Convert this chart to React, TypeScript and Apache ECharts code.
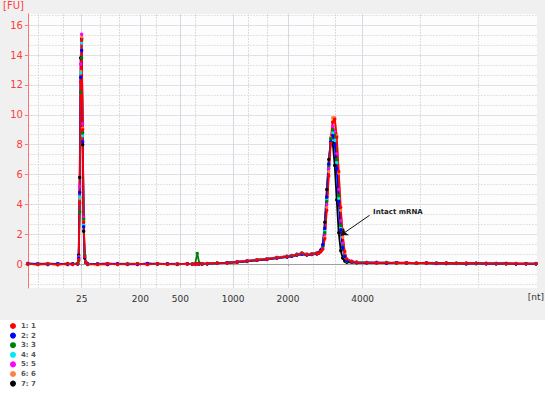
import React, { useEffect, useRef } from "react";
import * as echarts from "echarts";

// migration time (s) of each sampled point
const scanTimes = [
  19, 20, 21, 22, 23, 23.5, 24,
  24.1, 24.2, 24.3, 24.4, 24.5, 24.6, 24.7, 24.8,
  25, 26, 27, 28, 29, 30, 31, 32, 33, 34, 35, 35.5, 35.8, 36, 36.2, 36.5, 37, 38, 39, 40, 41, 42, 43, 44, 45, 45.5, 46, 46.5, 47, 47.5, 48,
  48.2, 48.4, 48.6, 48.8, 49, 49.2, 49.4, 49.6, 49.8, 50, 50.2, 50.4, 50.6, 50.8, 51,
  51.5, 52, 53, 54, 55, 56, 57, 58, 59, 60, 61, 62, 63, 64, 65, 66, 67, 68, 69, 70,
];

const run1 = [
  0.02, -0.03, 0.01, -0.04, 0.02, -0.02, 0.03,
  0.3, 4.1, 12.2, 15.0, 9.0, 2.8, 0.5, 0.12,
  0.0, -0.03, 0.02, -0.02, 0.01, 0.03, -0.02, 0.02, -0.01, 0.0, 0.02, -0.01, 0.01, 0.03, 0.0, 0.02, 0.04, 0.06, 0.08, 0.14, 0.2, 0.27, 0.33, 0.42, 0.5, 0.55, 0.62, 0.72, 0.63, 0.66, 0.7,
  0.75, 0.85, 1.0, 1.7, 3.6, 5.9, 8.1, 9.5, 9.7, 8.5, 6.2, 3.8, 2.0, 0.85, 0.35,
  0.18, 0.12, 0.1, 0.08, 0.1, 0.07, 0.09, 0.06, 0.08, 0.05, 0.07, 0.04, 0.06, 0.05, 0.03, 0.05, 0.02, 0.04, 0.01, 0.03,
];
const run2 = [
  0.05, 0.0, -0.02, 0.03, -0.01, 0.02, 0.0,
  0.4, 4.8, 12.5, 14.3, 8.2, 2.5, 0.45, 0.1,
  0.02, 0.0, -0.01, 0.03, 0.0, -0.02, 0.04, 0.01, 0.02, -0.01, 0.03, 0.0, 0.01, 0.02, 0.01, 0.01, 0.03, 0.05, 0.09, 0.13, 0.19, 0.25, 0.31, 0.4, 0.47, 0.52, 0.6, 0.66, 0.6, 0.64, 0.68,
  0.78, 0.95, 1.3, 2.4, 4.5, 6.7, 8.2, 8.6, 8.0, 6.4, 4.2, 2.3, 1.1, 0.5, 0.25,
  0.14, 0.1, 0.08, 0.1, 0.06, 0.09, 0.07, 0.05, 0.08, 0.04, 0.06, 0.05, 0.03, 0.06, 0.02, 0.04, 0.03, 0.01, 0.03, 0.02,
];
const run3 = [
  -0.01, 0.03, 0.0, -0.02, 0.04, 0.0, 0.01,
  0.2, 3.5, 11.5, 13.8, 8.8, 3.0, 0.6, 0.15,
  -0.02, 0.01, 0.03, 0.0, -0.01, 0.02, 0.0, 0.03, 0.01, -0.02, 0.02, 0.0, 0.05, 0.72, 0.08, 0.02, 0.03, 0.07, 0.07, 0.12, 0.18, 0.26, 0.32, 0.4, 0.48, 0.53, 0.6, 0.68, 0.62, 0.65, 0.69,
  0.76, 0.9, 1.2, 2.1, 4.2, 6.6, 8.4, 9.0, 8.6, 7.0, 4.6, 2.6, 1.2, 0.55, 0.25,
  0.15, 0.11, 0.09, 0.07, 0.09, 0.06, 0.08, 0.05, 0.07, 0.06, 0.04, 0.05, 0.04, 0.03, 0.05, 0.02, 0.04, 0.02, 0.03, 0.01,
];
const run4 = [
  0.04, 0.01, -0.02, 0.02, 0.0, 0.03, 0.01,
  0.35, 4.5, 12.8, 14.8, 8.6, 2.6, 0.5, 0.1,
  0.03, 0.01, 0.0, 0.02, 0.04, 0.0, 0.01, -0.01, 0.03, 0.02, 0.0, 0.02, 0.01, 0.0, 0.03, 0.02, 0.04, 0.05, 0.1, 0.13, 0.2, 0.26, 0.32, 0.41, 0.49, 0.54, 0.61, 0.67, 0.64, 0.66, 0.71,
  0.77, 0.92, 1.25, 2.2, 4.3, 6.6, 8.3, 8.8, 8.3, 6.8, 4.4, 2.4, 1.15, 0.5, 0.22,
  0.16, 0.13, 0.11, 0.09, 0.12, 0.08, 0.1, 0.07, 0.09, 0.08, 0.06, 0.07, 0.05, 0.06, 0.04, 0.05, 0.03, 0.04, 0.02, 0.04,
];
const run5 = [
  0.0, 0.03, 0.02, -0.01, 0.03, 0.01, 0.02,
  0.5, 5.2, 13.4, 15.4, 9.4, 3.1, 0.6, 0.14,
  -0.01, 0.02, 0.04, 0.01, -0.02, 0.0, 0.03, 0.0, 0.01, 0.03, -0.01, 0.01, 0.0, 0.02, 0.01, 0.03, 0.02, 0.06, 0.08, 0.14, 0.22, 0.27, 0.34, 0.45, 0.5, 0.57, 0.63, 0.7, 0.65, 0.67, 0.72,
  0.78, 0.9, 1.15, 2.0, 4.0, 6.4, 8.4, 9.2, 8.9, 7.4, 5.0, 2.9, 1.4, 0.6, 0.28,
  0.2, 0.13, 0.1, 0.12, 0.08, 0.1, 0.09, 0.07, 0.1, 0.06, 0.08, 0.05, 0.07, 0.04, 0.06, 0.03, 0.05, 0.03, 0.02, 0.04,
];
const run6 = [
  -0.02, 0.02, 0.04, 0.0, -0.01, 0.03, 0.0,
  0.3, 4.4, 12.9, 15.2, 9.1, 2.9, 0.5, 0.12,
  0.01, -0.02, 0.0, 0.02, 0.03, -0.01, 0.0, 0.02, 0.0, 0.01, 0.02, -0.02, 0.02, 0.01, 0.0, 0.01, 0.03, 0.07, 0.09, 0.15, 0.21, 0.28, 0.35, 0.43, 0.51, 0.56, 0.63, 0.73, 0.66, 0.68, 0.72,
  0.78, 0.88, 1.05, 1.8, 3.8, 6.2, 8.5, 9.8, 9.8, 8.6, 6.1, 3.6, 1.8, 0.8, 0.33,
  0.17, 0.12, 0.09, 0.08, 0.1, 0.06, 0.08, 0.07, 0.06, 0.07, 0.05, 0.06, 0.04, 0.05, 0.03, 0.04, 0.02, 0.03, 0.02, 0.01,
];
const run7 = [
  0.01, -0.01, 0.03, 0.02, -0.02, 0.0, 0.04,
  0.6, 5.8, 13.8, 15.1, 8.0, 2.2, 0.4, 0.1,
  0.0, 0.02, -0.02, 0.01, 0.0, 0.02, -0.01, 0.03, 0.0, 0.02, 0.01, 0.0, 0.02, 0.0, 0.01, 0.0, 0.02, 0.06, 0.1, 0.16, 0.22, 0.3, 0.36, 0.45, 0.53, 0.58, 0.66, 0.74, 0.67, 0.7, 0.75,
  0.75, 0.85, 1.3, 2.8, 5.0, 7.0, 8.2, 8.1, 6.6, 4.3, 2.1, 0.9, 0.4, 0.2, 0.12,
  0.12, 0.09, 0.11, 0.08, 0.07, 0.09, 0.06, 0.08, 0.05, 0.07, 0.04, 0.06, 0.03, 0.05, 0.04, 0.03, 0.05, 0.02, 0.03, 0.02,
];

const runValues = [run1, run2, run3, run4, run5, run6, run7];
const runNames = ["1: 1", "2: 2", "3: 3", "4: 4", "5: 5", "6: 6", "7: 7"];
const runColors = ["#ff0000", "#0000ff", "#008000", "#00e8f0", "#ff00ff", "#ff8040", "#000000"];

// ladder positions (s) and their sizes in nt
const ladderTimes = [24.4, 30.3, 34.3, 39.6, 45.1, 52.6];
const ladderLabels = ["25", "200", "500", "1000", "2000", "4000"];
const minorTimes = [20.0, 22.6, 26.3, 28.2, 31.9, 35.8, 41.1, 43.0, 47.6, 49.9, 58.4, 64.2];

const fuTicks = [0, 2, 4, 6, 8, 10, 12, 14, 16];
const minorFu = [-1.33, -0.67, 0.67, 1.33, 2.67, 3.33, 4.67, 5.33, 6.67, 7.33, 8.67, 9.33, 10.67, 11.33, 12.67, 13.33, 14.67, 15.33, 16.67];

// annotation: label anchor and arrow tip
const annotationText = "Intact mRNA";
const annotationFrom = [53.3, 3.27];
const annotationTo = [50.4, 1.93];
const annotationLabelAt = [53.6, 3.47];

const FONT = "DejaVu Sans";

export default function App() {
  const ref = useRef<HTMLDivElement>(null);
  useEffect(() => {
    if (!ref.current) return;
    const chart = echarts.init(ref.current, null, { renderer: "svg" });
    const order = [6, 5, 4, 3, 2, 1, 0];
    const series: any[] = order.map((i) => {
      const s: any = {
        name: runNames[i],
        type: "line",
        data: scanTimes.map((t, j) => [t, runValues[i][j]]),
        symbol: "circle",
        symbolSize: 3.4,
        showAllSymbol: true,
        lineStyle: { color: runColors[i], width: 1.8 },
        itemStyle: { color: runColors[i] },
        emphasis: { disabled: true },
      };
      if (i === 0) {
        s.markLine = {
          silent: true,
          symbol: ["none", "arrow"],
          symbolSize: 7,
          lineStyle: { color: "#111", width: 1, type: "solid" },
          label: { show: false },
          data: [[{ coord: annotationFrom }, { coord: annotationTo }]],
        };
        s.markPoint = {
          silent: true,
          symbol: "rect",
          symbolSize: 1,
          itemStyle: { color: "rgba(0,0,0,0)" },
          label: {
            show: true,
            position: "right",
            distance: 0,
            formatter: annotationText,
            fontFamily: FONT,
            fontSize: 7,
            fontWeight: "bold",
            color: "#222",
          },
          data: [{ coord: annotationLabelAt }],
        };
      }
      return s;
    });

    chart.setOption({
      animation: false,
      backgroundColor: "transparent",
      grid: {
        left: 26,
        right: 13,
        top: 13,
        bottom: 107,
        show: true,
        backgroundColor: "#fdfdfd",
        borderWidth: 0,
      },
      graphic: [
        {
          type: "text",
          right: 6,
          top: 292,
          style: { text: "[nt]", fontFamily: FONT, fontSize: 9, fill: "#333" },
        },
      ],
      legend: {
        data: runNames,
        orient: "vertical",
        left: 5,
        top: 317,
        height: 100,
        icon: "circle",
        itemWidth: 6,
        itemHeight: 6,
        itemGap: 1.6,
        textStyle: { fontFamily: FONT, fontSize: 7, fontWeight: "bold", color: "#555", lineHeight: 8 },
        selectedMode: false,
      },
      xAxis: [
        {
          type: "value",
          min: 19,
          max: 70.1,
          position: "bottom",
          axisLine: { lineStyle: { color: "#a0a0a0" } },
          axisTick: { show: true, length: 2, lineStyle: { color: "#a0a0a0" }, customValues: ladderTimes },
          axisLabel: {
            customValues: ladderTimes,
            fontFamily: FONT,
            fontSize: 9,
            color: "#333",
            margin: 6,
            formatter: (v: number) => {
              const k = ladderTimes.findIndex((t) => Math.abs(t - v) < 1e-6);
              return k >= 0 ? ladderLabels[k] : "";
            },
          },
          splitLine: { show: true, lineStyle: { color: "#d6d9e2", width: 1 } },
        },
        {
          type: "value",
          min: 19,
          max: 70.1,
          position: "top",
          axisLine: { show: false },
          axisTick: { show: false, customValues: minorTimes },
          axisLabel: { show: false, customValues: minorTimes },
          splitLine: { show: true, lineStyle: { color: "#dcdcdc", width: 1, type: [2, 1] } },
        },
      ],
      yAxis: [
        {
          type: "value",
          min: -1.6,
          max: 16.75,
          name: "[FU]",
          nameLocation: "end",
          nameGap: 4,
          nameTextStyle: { fontFamily: FONT, fontSize: 10, color: "#ff4040", align: "right", padding: [0, 4, 0, 0] },
          axisLine: { show: true, lineStyle: { color: "#ff7070" } },
          axisTick: { show: true, length: 3, lineStyle: { color: "#ff7070" }, customValues: fuTicks },
          axisLabel: { customValues: fuTicks, fontFamily: FONT, fontSize: 10, color: "#ff3c3c", margin: 5 },
          splitLine: { show: true, lineStyle: { color: "#dfe1e8", width: 1 } },
        },
        {
          type: "value",
          min: -1.6,
          max: 16.75,
          position: "left",
          axisLine: { show: false },
          axisTick: { show: false, customValues: minorFu },
          axisLabel: { show: false, customValues: minorFu },
          splitLine: { show: true, lineStyle: { color: "#e2e2e2", width: 1, type: [2, 1] } },
        },
      ],
      series,
    });
    return () => chart.dispose();
  }, []);

  return (
    <div style={{ position: "fixed", left: 0, top: 0, width: 550, height: 395, background: "#ffffff" }}>
      <div style={{ position: "absolute", left: 0, top: 0, width: 545, height: 320, background: "#f0f0f0" }} />
      <div ref={ref} style={{ position: "absolute", left: 0, top: 0, width: 550, height: 395 }} />
    </div>
  );
}
